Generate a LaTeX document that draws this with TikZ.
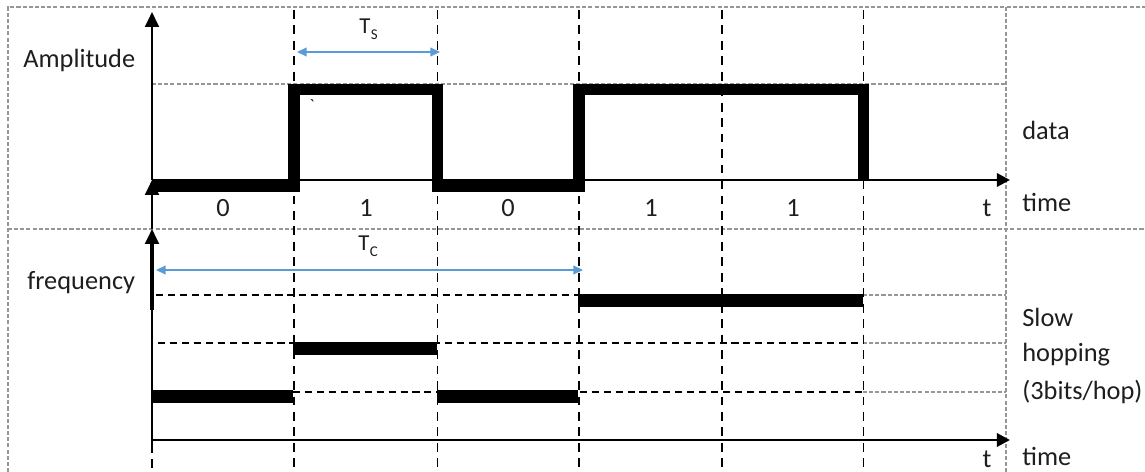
\documentclass[tikz,border=0pt]{standalone}
\usepackage{fontspec}
\setmainfont{Carlito}
\usetikzlibrary{arrows.meta}
\definecolor{tblue}{RGB}{91,155,213}
\definecolor{fgray}{RGB}{150,150,150}
\definecolor{txt}{RGB}{30,30,30}
\newcommand{\subS}[1]{\kern0.2pt\raisebox{-3pt}{\fontsize{8.5}{10}\selectfont #1}}
\begin{document}
\begin{tikzpicture}[x=0.02cm,y=-0.02cm,
  grid/.style={fgray, line width=0.6pt, dash pattern=on 2.3pt off 1.2pt},
  vdash/.style={black, line width=1.1pt, dash pattern=on 5pt off 3.8pt},
  hdash/.style={black, line width=1.1pt, dash pattern=on 4pt off 2.8pt},
  axis/.style={black, line width=1.7pt, -{Triangle[length=7.5pt,width=7.5pt]}},
  vaxis/.style={black, line width=1.7pt, -{Triangle[length=8.5pt,width=7.8pt]}},
  sigA/.style={black, line width=6.3pt},
  sigB/.style={black, line width=7pt},
  span/.style={tblue, line width=0.9pt, {Triangle[length=5.5pt,width=5pt]}-{Triangle[length=5.5pt,width=5pt]}},
  lbl/.style={txt, font=\fontsize{15}{18}\selectfont, inner sep=0pt},
  tl/.style={txt, font=\fontsize{13}{15}\selectfont, inner sep=0pt}]

\useasboundingbox (0,0) rectangle (1145,472);

% grey dashed frame / table
\draw[grid] (8,472) -- (8,7) -- (1145,7);
\draw[grid] (8,229) -- (1145,229);
\draw[grid] (1006,7) -- (1006,472);
\draw[grid] (152,84) -- (1006,84);
\draw[grid] (863,295) -- (1006,295);
\draw[grid] (863,343) -- (1006,343);
\draw[grid] (863,392) -- (1006,392);

% black dashed bit boundaries
\foreach \x in {294,437.5,579,722,863.5} \draw[vdash] (\x,10) -- (\x,472);
\draw[vdash] (152,444) -- (152,472);

% frequency levels
\draw[hdash] (156,295) -- (863,295);
\draw[hdash] (158,343) -- (863,343);
\draw[hdash] (293,392) -- (863,392);

% axes
\coordinate (o1) at (152,180);
\coordinate (y1) at (152,12);
\coordinate (x1) at (1010,180);
\coordinate (b1) at (152,229);
\coordinate (o2) at (152,440);
\coordinate (b2) at (152,444);
\coordinate (x2) at (1010,440);
\draw[vaxis] (o1) -- (y1);
\draw[vaxis] (b1) -- (o1);
\draw[axis] (o1) -- (x1);
\draw[vaxis] (b2) -- (b1);
\draw[black, line width=2.6pt] (152,238) -- (152,310);
\draw[axis] (o2) -- (x2);

% data signal
\draw[sigA] (152,186) -- (294,186) -- (294,89.5) -- (437.5,89.5) -- (437.5,186)
  -- (579,186) -- (579,89.5) -- (863.5,89.5) -- (863.5,180);

% hopping frequencies
\draw[sigB] (152,396.5) -- (293,396.5);
\draw[sigB] (293,348.5) -- (437,348.5);
\draw[sigB] (437,396.5) -- (578,396.5);
\draw[sigB] (578,300.5) -- (863,300.5);

% durations
\coordinate (ts1) at (297,52);
\coordinate (ts2) at (440,52);
\draw[span] (ts1) -- (ts2);
\coordinate (tc1) at (156,270);
\coordinate (tc2) at (583,270);
\draw[span] (tc1) -- (tc2);

% labels
\node[lbl, anchor=base west] (amp) at (23,68) {Amplitude};
\node[lbl, anchor=base west] (freq) at (27,290) {frequency};
\node[tl, anchor=base west] (Ts) at (359,34) {T\subS{S}};
\node[tl, anchor=base west] (Tc) at (358,251) {T\subS{C}};
\node[txt, font=\fontsize{10}{12}\selectfont, inner sep=0pt] (tick) at (312,106) {\textasciigrave};
\node[lbl, anchor=base] (b1l) at (223,217) {0};
\node[lbl, anchor=base] (b2l) at (366,217) {1};
\node[lbl, anchor=base] (b3l) at (508,217) {0};
\node[lbl, anchor=base] (b4l) at (651,217) {1};
\node[lbl, anchor=base] (b5l) at (793,217) {1};
\node[lbl, anchor=base] (t1) at (987,217) {t};
\node[lbl, anchor=base] (t2) at (987,467) {t};
\node[lbl, anchor=base west] (data) at (1022,140) {data};
\node[lbl, anchor=base west] (time1) at (1022,212) {time};
\node[lbl, anchor=base west] (time2) at (1022,465) {time};
\node[lbl, anchor=base west] (slow) at (1022,327) {Slow};
\node[lbl, anchor=base west] (hop) at (1022,362) {hopping};
\node[lbl, anchor=base west] (bits) at (1022,399) {(3bits/hop)};
\end{tikzpicture}
\end{document}
